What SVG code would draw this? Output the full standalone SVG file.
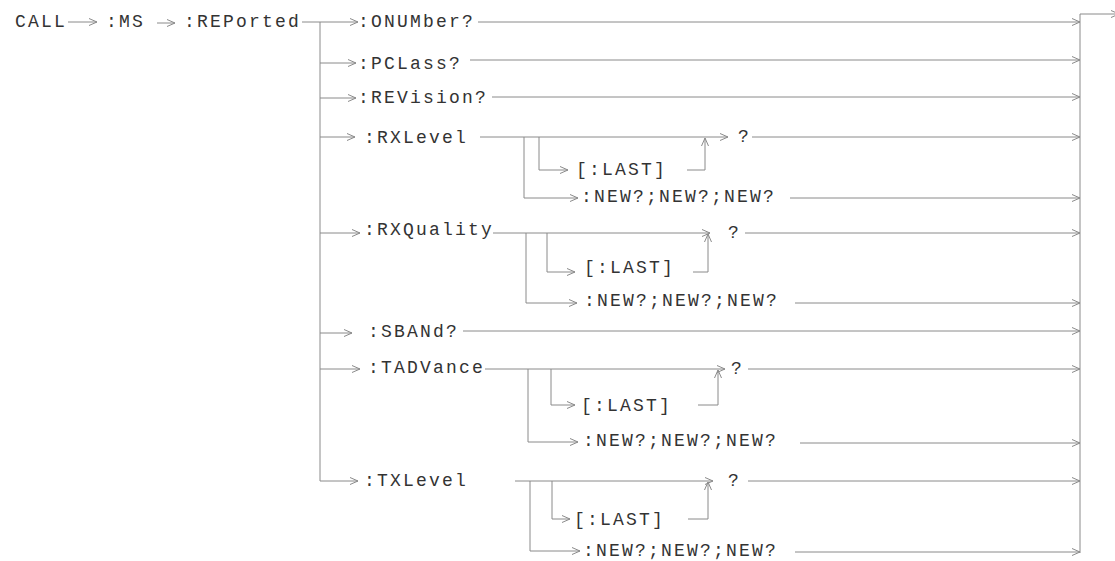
<svg xmlns="http://www.w3.org/2000/svg" width="1115" height="561" viewBox="0 0 1115 561">
<defs>
<style>
text{font-family:"Liberation Mono","Courier New",monospace;font-size:18px;letter-spacing:2.2px;fill:#333}
.c path{fill:none;stroke:#8a8a8a;stroke-width:1}
</style>
<marker id="ah" markerWidth="12" markerHeight="10" refX="9" refY="4" orient="auto" markerUnits="userSpaceOnUse" viewBox="0 0 12 10">
<path d="M1,0.5 L9,4 L1,7.5" fill="none" stroke="#8a8a8a" stroke-width="1"/>
</marker>
</defs>
<rect width="1115" height="561" fill="#fff"/>
<g class="c" id="connectors">
<path d="M68,22 H97" marker-end="url(#ah)"/>
<path d="M157,23 H175" marker-end="url(#ah)"/>
<path d="M302,22 H358" marker-end="url(#ah)"/>
<path d="M320,22 V481"/>
<path d="M320,63 H356" marker-end="url(#ah)"/>
<path d="M320,98 H356" marker-end="url(#ah)"/>
<path d="M320,137 H355" marker-end="url(#ah)"/>
<path d="M320,233 H360" marker-end="url(#ah)"/>
<path d="M320,333 H352" marker-end="url(#ah)"/>
<path d="M320,369 H360" marker-end="url(#ah)"/>
<path d="M320,481 H358" marker-end="url(#ah)"/>
<path d="M478,22 H1080" marker-end="url(#ah)"/>
<path d="M470,60 H1080" marker-end="url(#ah)"/>
<path d="M492,97 H1080" marker-end="url(#ah)"/>
<path d="M480,137 H728" marker-end="url(#ah)"/>
<path d="M524,137 V198 H578" marker-end="url(#ah)"/>
<path d="M539,137 V170 H568" marker-end="url(#ah)"/>
<path d="M687,170 H705 V138" marker-end="url(#ah)"/>
<path d="M752,137 H1080" marker-end="url(#ah)"/>
<path d="M790,198 H1080" marker-end="url(#ah)"/>
<path d="M493,233 H710" marker-end="url(#ah)"/>
<path d="M526,233 V303 H577" marker-end="url(#ah)"/>
<path d="M547,233 V272 H575" marker-end="url(#ah)"/>
<path d="M693,272 H708 V234" marker-end="url(#ah)"/>
<path d="M745,233 H1080" marker-end="url(#ah)"/>
<path d="M795,303 H1080" marker-end="url(#ah)"/>
<path d="M463,331 H1080" marker-end="url(#ah)"/>
<path d="M485,369 H725" marker-end="url(#ah)"/>
<path d="M528,369 V442 H578" marker-end="url(#ah)"/>
<path d="M551,369 V405 H575" marker-end="url(#ah)"/>
<path d="M698,405 H718 V370" marker-end="url(#ah)"/>
<path d="M748,369 H1080" marker-end="url(#ah)"/>
<path d="M800,443 H1080" marker-end="url(#ah)"/>
<path d="M515,481 H713" marker-end="url(#ah)"/>
<path d="M530,481 V551 H580" marker-end="url(#ah)"/>
<path d="M552,481 V519 H570" marker-end="url(#ah)"/>
<path d="M688,519 H708 V482" marker-end="url(#ah)"/>
<path d="M748,481 H1080" marker-end="url(#ah)"/>
<path d="M795,552 H1080" marker-end="url(#ah)"/>
<path d="M1080,14 V553"/>
<path d="M1080,14 H1119" marker-end="url(#ah)"/>
</g>
<g id="n-call"><text x="15" y="27">CALL</text></g>
<g id="n-ms"><text x="106" y="27">:MS</text></g>
<g id="n-reported"><text x="184" y="27">:REPorted</text></g>
<g id="n-onumber"><text x="358" y="27">:ONUMber?</text></g>
<g id="n-pclass"><text x="358" y="69">:PCLass?</text></g>
<g id="n-revision"><text x="358" y="103">:REVision?</text></g>
<g id="n-rxlevel"><text x="364" y="143">:RXLevel</text></g>
<g id="n-rxlevel-last"><text x="576" y="175">[:LAST]</text></g>
<g id="n-rxlevel-new"><text x="581" y="202">:NEW?;NEW?;NEW?</text></g>
<g id="n-rxlevel-q"><text x="738" y="142">?</text></g>
<g id="n-rxquality"><text x="364" y="235">:RXQuality</text></g>
<g id="n-rxquality-last"><text x="584" y="273">[:LAST]</text></g>
<g id="n-rxquality-new"><text x="584" y="306">:NEW?;NEW?;NEW?</text></g>
<g id="n-rxquality-q"><text x="728" y="238">?</text></g>
<g id="n-sband"><text x="368" y="337">:SBANd?</text></g>
<g id="n-tadvance"><text x="368" y="373">:TADVance</text></g>
<g id="n-tadvance-last"><text x="581" y="411">[:LAST]</text></g>
<g id="n-tadvance-new"><text x="583" y="446">:NEW?;NEW?;NEW?</text></g>
<g id="n-tadvance-q"><text x="731" y="374">?</text></g>
<g id="n-txlevel"><text x="364" y="486">:TXLevel</text></g>
<g id="n-txlevel-last"><text x="574" y="525">[:LAST]</text></g>
<g id="n-txlevel-new"><text x="583" y="556">:NEW?;NEW?;NEW?</text></g>
<g id="n-txlevel-q"><text x="728" y="486">?</text></g>
</svg>
